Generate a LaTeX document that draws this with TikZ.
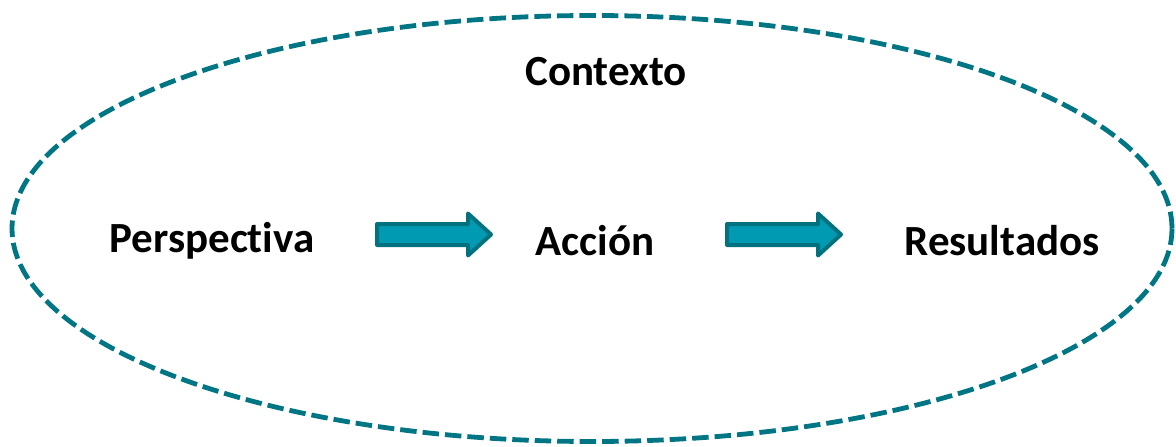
\documentclass[tikz,border=0pt]{standalone}
\usepackage{fontspec}
\setmainfont[Ligatures=NoCommon]{Carlito}
\definecolor{ring}{HTML}{007684}
\definecolor{arrfill}{HTML}{009BB3}
\definecolor{arrline}{HTML}{00717F}
\tikzset{
  lbl/.style={font=\bfseries\fontsize{43}{50}\selectfont, text=black, inner sep=0pt},
  arr/.style={draw=arrline, fill=arrfill, line width=4pt, line join=round},
  fatarrow/.pic={\path[arr] (-57,-10.5) -- (34,-10.5) -- (34,-21) -- (57,0) -- (34,21) -- (34,10.5) -- (-57,10.5) -- cycle;}
}
\begin{document}
\begin{tikzpicture}[x=1pt,y=-1pt]
\useasboundingbox (0,0) rectangle (1176,447);
\draw[ring, line width=4.8pt, dash pattern=on 16.5pt off 6pt] (592,228.5) ellipse [x radius=580, y radius=213];
\node[lbl] (ctx) at (606,72) {Contexto};
\node[lbl] (per) at (212,241) {Perspectiva};
\node[lbl] (acc) at (595,241) {Acción};
\node[lbl] (res) at (1002,241) {Resultados};
\pic (a1) at (434,234.5) {fatarrow};
\pic (a2) at (784,234.5) {fatarrow};
\end{tikzpicture}
\end{document}
